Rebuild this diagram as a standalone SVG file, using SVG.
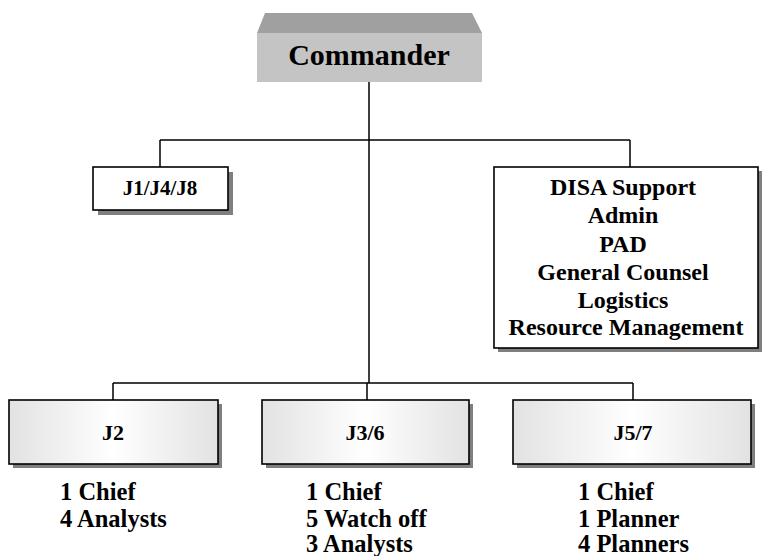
<svg xmlns="http://www.w3.org/2000/svg" width="763" height="556" viewBox="0 0 763 556">
<defs>
<linearGradient id="g" x1="0" y1="0" x2="1" y2="0">
<stop offset="0" stop-color="#e2e2e2"/>
<stop offset="0.5" stop-color="#ffffff"/>
<stop offset="1" stop-color="#e2e2e2"/>
</linearGradient>
</defs>
<style>
text{font-family:'Liberation Serif','Times New Roman','DejaVu Serif',serif;font-weight:bold;fill:#000}
.c{text-anchor:middle}
.sh{fill:#7f7f7f}
.box{stroke:#000;stroke-width:1.6}
.ln{stroke:#000;stroke-width:1.5;fill:none}
</style>
<rect width="763" height="556" fill="#fff"/>
<g id="connectors">
<path class="ln" d="M369 82V383M160 140H630M160 140V167M630 140V167M113 383H633M113 383V400M367 383V400M633 383V400"/>
</g>
<g id="commander">
<polygon points="265,13 472,13 482,33 257,33" fill="#a0a0a0"/>
<rect x="257" y="33" width="225" height="49" fill="#c4c4c4"/>
<text class="c" x="369" y="65" font-size="30">Commander</text>
</g>
<g id="j1j4j8">
<rect class="sh" x="98" y="172" width="135" height="43"/>
<rect class="box" x="93" y="167" width="135" height="43" fill="#fff"/>
<text class="c" x="160" y="195" font-size="21">J1/J4/J8</text>
</g>
<g id="disa">
<rect class="sh" x="498" y="171" width="264" height="181"/>
<rect class="box" x="494" y="167" width="264" height="181" fill="#fff"/>
<text class="c" font-size="24">
<tspan x="626" y="195">DISA Support</tspan>
<tspan x="626" y="223">Admin</tspan>
<tspan x="626" y="252">PAD</tspan>
<tspan x="626" y="280">General Counsel</tspan>
<tspan x="626" y="308">Logistics</tspan>
<tspan x="626" y="335">Resource Management</tspan>
</text>
</g>
<g id="j2">
<rect class="sh" x="13" y="404" width="209" height="64"/>
<rect class="box" x="9" y="400" width="209" height="64" fill="url(#g)"/>
<text class="c" x="113" y="440" font-size="22">J2</text>
<text font-size="24.5"><tspan x="60" y="500">1 Chief</tspan><tspan x="60" y="527">4 Analysts</tspan></text>
</g>
<g id="j36">
<rect class="sh" x="266" y="404" width="207" height="64"/>
<rect class="box" x="262" y="400" width="207" height="64" fill="url(#g)"/>
<text class="c" x="365" y="440" font-size="22">J3/6</text>
<text font-size="24.5"><tspan x="306" y="500">1 Chief</tspan><tspan x="306" y="527">5 Watch off</tspan><tspan x="306" y="552">3 Analysts</tspan></text>
</g>
<g id="j57">
<rect class="sh" x="517" y="404" width="238" height="64"/>
<rect class="box" x="513" y="400" width="238" height="64" fill="url(#g)"/>
<text class="c" x="633" y="440" font-size="22">J5/7</text>
<text font-size="24.5"><tspan x="578" y="500">1 Chief</tspan><tspan x="578" y="527">1 Planner</tspan><tspan x="578" y="552">4 Planners</tspan></text>
</g>
</svg>
